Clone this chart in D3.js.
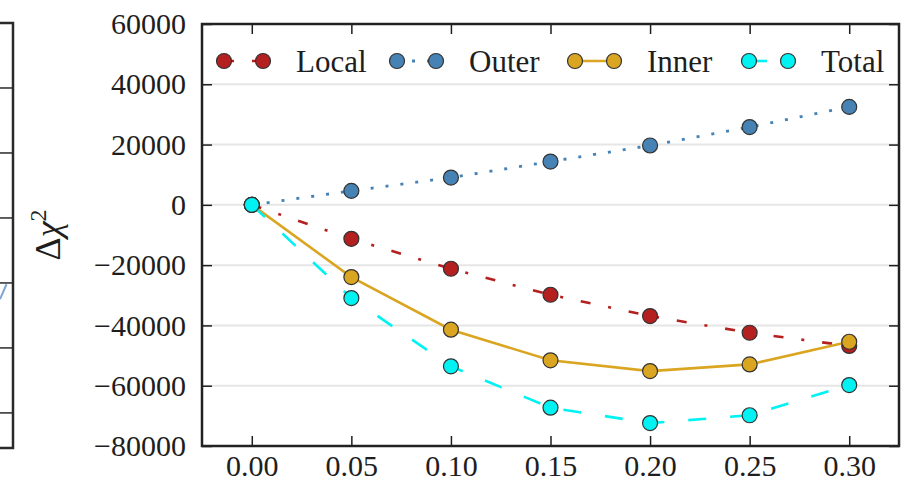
<!DOCTYPE html>
<html>
<head>
<meta charset="utf-8">
<script src="https://cdn.jsdelivr.net/npm/d3@7"></script>
<style>
  html, body { margin: 0; padding: 0; background: #fff; }
  svg { display: block; }
</style>
</head>
<body>
<svg id="chart" width="908" height="489"></svg>
<script>
// ---------- data ----------
const xValues = [0.00, 0.05, 0.10, 0.15, 0.20, 0.25, 0.30];
const localValues = [0, -11270, -21200, -29830, -36900, -42430, -46800];
const outerValues = [0, 4640, 9060, 14360, 19700, 25800, 32500];
const innerValues = [0, -23960, -41420, -51580, -55150, -52930, -45420];
const totalValues = [0, -30920, -53570, -67300, -72400, -69800, -59780];
const seriesNames = ["Local", "Outer", "Inner", "Total"];
const xTicks = [0.00, 0.05, 0.10, 0.15, 0.20, 0.25, 0.30];
const yTicks = [-80000, -60000, -40000, -20000, 0, 20000, 40000, 60000];
const gridTicks = [-60000, -40000, -20000, 0, 20000, 40000];
const neighborTicks = [0, 1, 2, 3, 4, 5];
const neighborFragment = [[0.0, 1.75], [0.5, 1.98]];

// ---------- styles ----------
const styles = {
  Local: { color: "#b41f1f", dash: "10,18,3,18", width: 2.6 },
  Outer: { color: "#4682b4", dash: "3,12", width: 2.8 },
  Inner: { color: "#daa520", dash: null, width: 2.6 },
  Total: { color: "#00f2f2", dash: "18,24", width: 2.6 }
};
const valuesByName = { Local: localValues, Outer: outerValues, Inner: innerValues, Total: totalValues };

(function () {
const svg = d3.select("#chart");
const font = "'Liberation Serif', 'Times New Roman', serif";
const ink = "#1e1e1e";

const pL = 202, pR = 899, pT = 24, pB = 446;
const x = d3.scaleLinear().domain([-0.025, 0.325]).range([pL, pR]);
const y = d3.scaleLinear().domain([-80000, 60000]).range([pB, pT]);

// ---------- neighbour panel fragment (left edge) ----------
const ny = d3.scaleLinear().domain([-0.54, 6]).range([448, 23]);
const nx = d3.scaleLinear().domain([0, 1]).range([0, 13]);
const nb = svg.append("g");
nb.append("path")
  .attr("d", d3.line().x(d => nx(d[0])).y(d => ny(d[1]))(neighborFragment))
  .attr("stroke", "#7fa6cc").attr("stroke-width", 2).attr("fill", "none");
nb.append("path")
  .attr("d", `M${nx(-0.2)},${ny(6)}H${nx(1)}V${ny(-0.54)}H${nx(-0.2)}`)
  .attr("stroke", "#2a2a2a").attr("stroke-width", 2.5).attr("fill", "none");
nb.selectAll("line.nt").data(neighborTicks).enter().append("line")
  .attr("x1", nx(0)).attr("x2", nx(1))
  .attr("y1", d => ny(d)).attr("y2", d => ny(d))
  .attr("stroke", "#2a2a2a").attr("stroke-width", 1.5);

// ---------- grid ----------
svg.append("g").selectAll("line").data(gridTicks).enter().append("line")
  .attr("x1", pL).attr("x2", pR)
  .attr("y1", d => y(d)).attr("y2", d => y(d))
  .attr("stroke", "#e6e6e6").attr("stroke-width", 2);

// ---------- axes ----------
const tickLen = 10;
const yAxisL = d3.axisLeft(y).tickValues(yTicks).tickSizeInner(-tickLen).tickSizeOuter(0)
  .tickPadding(16).tickFormat(d => d3.format("d")(d).replace("-", "\u2212"));
const gL = svg.append("g").attr("transform", `translate(${pL},0)`).call(yAxisL);
const yAxisR = d3.axisRight(y).tickValues(yTicks).tickSizeInner(-tickLen).tickSizeOuter(0).tickFormat("");
const gR = svg.append("g").attr("transform", `translate(${pR},0)`).call(yAxisR);
const xAxisB = d3.axisBottom(x).tickValues(xTicks).tickSizeInner(-tickLen).tickSizeOuter(0)
  .tickPadding(9).tickFormat(d3.format(".2f"));
const gB = svg.append("g").attr("transform", `translate(0,${pB})`).call(xAxisB);
const xAxisT = d3.axisTop(x).tickValues(xTicks).tickSizeInner(-tickLen).tickSizeOuter(0).tickFormat("");
const gT = svg.append("g").attr("transform", `translate(0,${pT})`).call(xAxisT);

[gL, gR, gB, gT].forEach(g => {
  g.select(".domain").remove();
  g.selectAll(".tick line").attr("stroke", ink).attr("stroke-width", 1.5);
  g.selectAll("text").attr("font-family", font).attr("font-size", 30).attr("fill", ink);
});

// ---------- series ----------
const line = d3.line().x((d, i) => x(xValues[i])).y(d => y(d));
seriesNames.forEach(name => {
  const st = styles[name];
  const vals = valuesByName[name];
  const g = svg.append("g");
  g.append("path").attr("d", line(vals))
    .attr("fill", "none").attr("stroke", st.color).attr("stroke-width", st.width)
    .attr("stroke-dasharray", st.dash);
  g.selectAll("circle").data(vals).enter().append("circle")
    .attr("cx", (d, i) => x(xValues[i])).attr("cy", d => y(d)).attr("r", 7.5)
    .attr("fill", st.color).attr("stroke", "#333").attr("stroke-width", 1.2);
});

// ---------- frame ----------
svg.append("rect").attr("x", pL).attr("y", pT)
  .attr("width", pR - pL).attr("height", pB - pT)
  .attr("fill", "none").attr("stroke", "#222").attr("stroke-width", 2.5);

// ---------- legend ----------
const legendY = 61;
const legendStarts = [224, 397, 575, 749];
const lg = svg.append("g");
seriesNames.forEach((name, k) => {
  const st = styles[name];
  const x0 = legendStarts[k], x1 = x0 + 39;
  lg.append("line").attr("x1", x0).attr("x2", x1).attr("y1", legendY).attr("y2", legendY)
    .attr("stroke", st.color).attr("stroke-width", st.width).attr("stroke-dasharray", st.dash);
  [x0, x1].forEach(cx => lg.append("circle").attr("cx", cx).attr("cy", legendY).attr("r", 7.5)
    .attr("fill", st.color).attr("stroke", "#333").attr("stroke-width", 1.2));
  lg.append("text").attr("x", x1 + 33).attr("y", legendY).attr("dy", "0.35em")
    .attr("font-family", font).attr("font-size", 31).attr("fill", ink).text(name);
});

// ---------- y label ----------
const yl = svg.append("text")
  .attr("transform", `translate(60,${(pT + pB) / 2}) rotate(-90)`)
  .attr("text-anchor", "middle")
  .attr("font-family", font).attr("font-size", 36).attr("fill", ink);
yl.append("tspan").text("\u0394");
yl.append("tspan").attr("font-style", "italic").text("\u03C7");
yl.append("tspan").attr("dy", -14).attr("font-size", 24).text("2");
})();
</script>
</body>
</html>
